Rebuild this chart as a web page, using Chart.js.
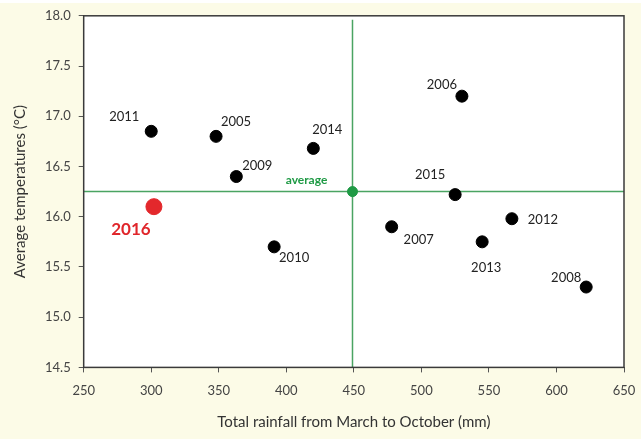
<!DOCTYPE html>
<html>
<head>
<meta charset="utf-8">
<script src="https://cdn.jsdelivr.net/npm/chart.js@4.4.1/dist/chart.umd.min.js"></script>
<style>
html,body{margin:0;padding:0;background:#ffffff;}
#wrap{width:641px;height:439px;}
</style>
</head>
<body>
<div id="wrap"><canvas id="c" width="641" height="439"></canvas></div>
<script>
// Data
const years = ["2011","2005","2009","2014","2006","2015","2012","2007","2013","2008","2010"];
const rainfall = [300, 348, 363, 420, 530, 525, 567, 478, 545, 622, 391];
const temperature = [16.85, 16.80, 16.40, 16.68, 17.20, 16.22, 15.98, 15.90, 15.75, 15.30, 15.70];
const year2016 = ["2016"];
const rainfall2016 = [302];
const temperature2016 = [16.10];
const averageRainfall = 449;
const averageTemperature = 16.25;
const xTicks = [250, 300, 350, 400, 450, 500, 550, 600, 650];
const yTicks = [14.5, 15.0, 15.5, 16.0, 16.5, 17.0, 17.5, 18.0];

// Label offsets (style)
const labelOffsets = {
  "2011": [-27, -15], "2005": [20, -15], "2009": [21, -11], "2014": [14, -19],
  "2006": [-20, -11], "2015": [-25, -20], "2012": [31, 1], "2007": [27, 13],
  "2013": [4, 26], "2008": [-20, -9], "2010": [20, 11]
};

const FONT = "Lato, 'Open Sans', sans-serif";

const plotBg = {
  id: 'plotBg',
  beforeDraw(chart) {
    const {ctx, chartArea: a} = chart;
    ctx.save();
    ctx.fillStyle = '#fcfbe7';
    ctx.fillRect(0, 3, chart.width, chart.height - 3);
    ctx.fillStyle = '#ffffff';
    ctx.fillRect(a.left, a.top, a.right - a.left, a.bottom - a.top);
    ctx.restore();
  },
  afterDatasetsDraw(chart) {
    const {ctx, chartArea: a} = chart;
    ctx.save();
    ctx.strokeStyle = '#3a3a3a';
    ctx.lineWidth = 1.5;
    ctx.strokeRect(a.left, a.top, a.right - a.left, a.bottom - a.top);
    ctx.restore();
  }
};

const labelsPlugin = {
  id: 'pointLabels',
  afterDatasetsDraw(chart) {
    const ctx = chart.ctx;
    ctx.save();
    ctx.textAlign = 'center';
    ctx.textBaseline = 'middle';
    const meta0 = chart.getDatasetMeta(2);
    ctx.fillStyle = '#222';
    ctx.font = "13px " + FONT;
    meta0.data.forEach((pt, i) => {
      const off = labelOffsets[years[i]] || [0, -14];
      ctx.fillText(years[i], pt.x + off[0], pt.y + off[1]);
    });
    const meta1 = chart.getDatasetMeta(3);
    ctx.fillStyle = '#e0262b';
    ctx.font = "bold 17px " + FONT;
    meta1.data.forEach((pt, i) => {
      ctx.fillText(year2016[i], pt.x - 23, pt.y + 23);
    });
    const meta2 = chart.getDatasetMeta(4);
    ctx.fillStyle = '#1f9a45';
    ctx.font = "bold 12px " + FONT;
    meta2.data.forEach(pt => {
      ctx.fillText('average', pt.x - 46, pt.y - 11);
    });
    ctx.restore();
  }
};

new Chart(document.getElementById('c'), {
  type: 'scatter',
  data: {
    datasets: [
      {
        data: [{x: xTicks[0], y: averageTemperature}, {x: xTicks[xTicks.length-1], y: averageTemperature}],
        showLine: true, borderColor: '#4aa462', borderWidth: 1.5, pointRadius: 0, order: 5
      },
      {
        data: [{x: averageRainfall, y: yTicks[0]}, {x: averageRainfall, y: 17.96}],
        showLine: true, borderColor: '#4aa462', borderWidth: 1.5, pointRadius: 0, order: 5
      },
      {
        data: rainfall.map((r, i) => ({x: r, y: temperature[i]})),
        backgroundColor: '#000', borderColor: '#000', pointRadius: 6, pointHoverRadius: 6
      },
      {
        data: rainfall2016.map((r, i) => ({x: r, y: temperature2016[i]})),
        backgroundColor: '#e3282c', borderColor: '#e3282c', pointRadius: 8, pointHoverRadius: 8
      },
      {
        data: [{x: averageRainfall, y: averageTemperature}],
        backgroundColor: '#1f9a45', borderColor: '#1f9a45', pointRadius: 5, pointHoverRadius: 5
      }
    ]
  },
  options: {
    responsive: false,
    animation: false,
    devicePixelRatio: 1,
    layout: {padding: {top: 10, right: 17, left: 7, bottom: 4}},
    plugins: {legend: {display: false}, tooltip: {enabled: false}},
    scales: {
      x: {
        type: 'linear', min: 250, max: 650,
        afterBuildTicks: s => { s.ticks = xTicks.map(v => ({value: v})); },
        afterFit: s => { s.paddingRight = 0; s.paddingLeft = 0; },
        grid: {drawOnChartArea: false, drawTicks: true, tickLength: 5, color: '#555'},
        border: {display: false},
        ticks: {color: '#444', font: {size: 13, family: FONT}, padding: 11, callback: v => v},
        title: {display: true, text: 'Total rainfall from March to October (mm)', color: '#333', font: {size: 15, family: FONT}, padding: {top: 3}}
      },
      y: {
        type: 'linear', min: 14.5, max: 18.0,
        afterBuildTicks: s => { s.ticks = yTicks.map(v => ({value: v})); },
        grid: {drawOnChartArea: false, drawTicks: true, tickLength: 5, color: '#555'},
        border: {display: false},
        ticks: {color: '#444', font: {size: 13, family: FONT}, padding: 8, callback: v => Number(v).toFixed(1)},
        title: {display: true, text: 'Average temperatures (°C)', color: '#333', font: {size: 15, family: FONT}, padding: {bottom: 8}}
      }
    }
  },
  plugins: [plotBg, labelsPlugin]
});
</script>
</body>
</html>
